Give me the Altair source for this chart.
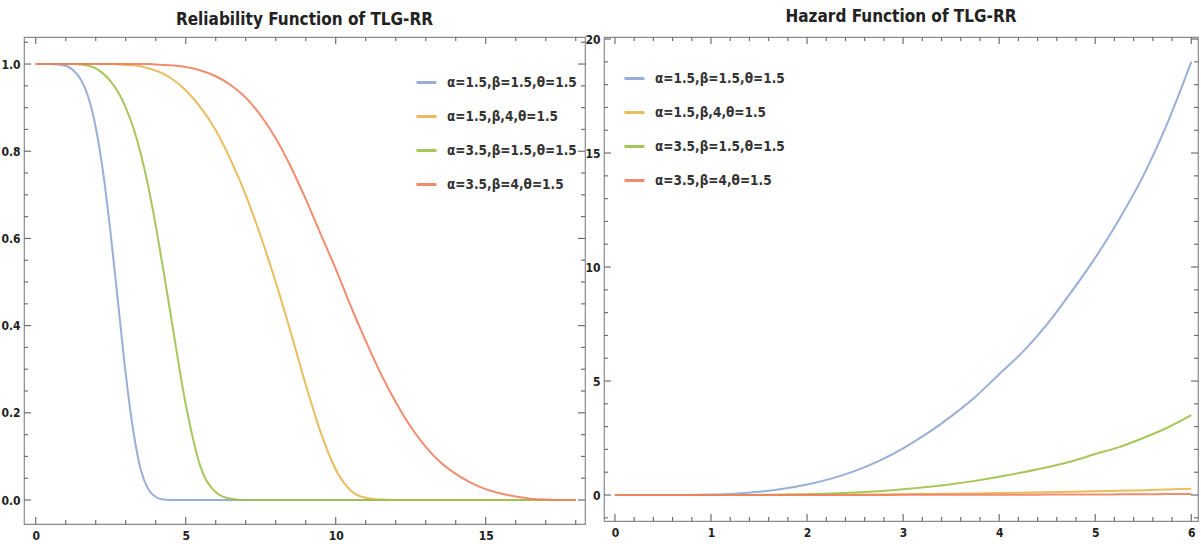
import altair as alt
import pandas as pd

SERIES = ["α=1.5,β=1.5,θ=1.5", "α=1.5,β,4,θ=1.5", "α=3.5,β=1.5,θ=1.5", "α=3.5,β=4,θ=1.5"]
COLORS = ["#8EA6D4", "#E9B54E", "#9DC04A", "#EF7F5E"]

# ---- Reliability function (left panel) ----
rel_x = [0, 0.5, 1, 1.25, 1.5, 1.75, 2, 2.25, 2.5, 2.75, 3, 3.25, 3.5, 3.75, 4, 4.25, 4.5,
         5, 5.5, 6, 6.5, 7, 7.5, 8, 8.5, 9, 9.5, 10, 10.5, 11, 11.5, 12, 12.5, 13, 13.5,
         14, 14.5, 15, 15.5, 16, 16.5, 17, 17.5, 18]
rel_blue = [1, 1, 0.996, 0.986, 0.965, 0.925, 0.855, 0.75, 0.61, 0.45, 0.29, 0.16, 0.07, 0.025, 0.007, 0.001, 0,
            0, 0, 0, 0, 0, 0, 0, 0, 0, 0, 0, 0, 0, 0, 0, 0, 0, 0,
            0, 0, 0, 0, 0, 0, 0, 0, 0]
rel_yellow = [1, 1, 1, 1, 1, 1, 1, 1, 1, 0.999, 0.998, 0.997, 0.995, 0.99, 0.985, 0.978, 0.968,
              0.94, 0.9, 0.848, 0.78, 0.7, 0.605, 0.5, 0.385, 0.265, 0.155, 0.07, 0.022, 0.005, 0.001, 0, 0, 0, 0,
              0, 0, 0, 0, 0, 0, 0, 0, 0]
rel_green = [1, 1, 1, 1, 0.999, 0.996, 0.99, 0.978, 0.96, 0.935, 0.9, 0.855, 0.795, 0.72, 0.63, 0.53, 0.425,
             0.22, 0.075, 0.018, 0.003, 0, 0, 0, 0, 0, 0, 0, 0, 0, 0, 0, 0, 0, 0,
             0, 0, 0, 0, 0, 0, 0, 0, 0]
rel_red = [1, 1, 1, 1, 1, 1, 1, 1, 1, 1, 1, 1, 1, 1, 0.999, 0.998, 0.997,
           0.993, 0.985, 0.972, 0.952, 0.923, 0.882, 0.83, 0.765, 0.69, 0.61, 0.53, 0.445, 0.365, 0.29, 0.225, 0.168, 0.122, 0.086,
           0.06, 0.04, 0.025, 0.015, 0.008, 0.003, 0.001, 0, 0]

# ---- Hazard function (right panel) ----
haz_x = [0, 0.25, 0.5, 0.75, 1, 1.25, 1.5, 1.75, 2, 2.25, 2.5, 2.75, 3, 3.25, 3.5, 3.75, 4,
         4.25, 4.5, 4.75, 5, 5.25, 5.5, 5.75, 6]
haz_blue = [0, 0, 0.001, 0.005, 0.02, 0.06, 0.14, 0.27, 0.46, 0.72, 1.06, 1.5, 2.05, 2.7, 3.45, 4.3, 5.3,
            6.3, 7.5, 8.9, 10.4, 12.1, 14.0, 16.3, 19.0]
haz_yellow = [0, 0, 0, 0, 0, 0.002, 0.004, 0.007, 0.01, 0.015, 0.02, 0.027, 0.035, 0.045, 0.057, 0.07, 0.085,
              0.1, 0.12, 0.14, 0.16, 0.185, 0.21, 0.245, 0.28]
haz_green = [0, 0, 0, 0, 0, 0, 0.005, 0.015, 0.035, 0.065, 0.11, 0.17, 0.25, 0.35, 0.47, 0.62, 0.8,
             1.0, 1.22, 1.47, 1.8, 2.1, 2.5, 2.95, 3.5]
haz_red = [0, 0, 0, 0, 0, 0, 0, 0.001, 0.002, 0.003, 0.004, 0.005, 0.006, 0.007, 0.009, 0.011, 0.013,
           0.015, 0.018, 0.021, 0.025, 0.029, 0.034, 0.04, 0.046]

# tick values
rel_x_major = [0, 5, 10, 15]
rel_x_minor = [1, 2, 3, 4, 6, 7, 8, 9, 11, 12, 13, 14, 16, 17, 18]
rel_y_major = [0, 0.2, 0.4, 0.6, 0.8, 1.0]
rel_y_minor = [0.05, 0.1, 0.15, 0.25, 0.3, 0.35, 0.45, 0.5, 0.55, 0.65, 0.7, 0.75, 0.85, 0.9, 0.95, 1.05]
haz_x_major = [0, 1, 2, 3, 4, 5, 6]
haz_x_minor = [0.2, 0.4, 0.6, 0.8, 1.2, 1.4, 1.6, 1.8, 2.2, 2.4, 2.6, 2.8, 3.2, 3.4, 3.6, 3.8,
               4.2, 4.4, 4.6, 4.8, 5.2, 5.4, 5.6, 5.8]
haz_y_major = [0, 5, 10, 15, 20]
haz_y_minor = [-1, 1, 2, 3, 4, 6, 7, 8, 9, 11, 12, 13, 14, 16, 17, 18, 19]


def long_df(x, ys):
    rows = []
    for k, (name, y) in enumerate(zip(SERIES, ys)):
        for xi, yi in zip(x, y):
            rows.append({"x": xi, "y": yi, "series": name, "k": k})
    return pd.DataFrame(rows)


FONT = "DejaVu Sans Condensed, Liberation Sans Narrow, sans-serif"
TICK_COLOR = "#6f6f6f"
FRAME_COLOR = "#8a8a8a"
MAJOR = 7
MINOR = 4


def label_axis(orient, values, fmt, pad):
    return alt.Axis(orient=orient, values=values, format=fmt, ticks=False, domain=False, grid=False,
                    labelFont=FONT, labelFontSize=12, labelFontWeight="bold", labelColor="#222",
                    labelPadding=pad, title=None)


def tick_rules(vals, channel, scale, axis, side, length, w, h):
    d = pd.DataFrame({"v": vals})
    m = alt.Chart(d).mark_rule(color=TICK_COLOR, strokeWidth=1.2)
    if channel == "x":
        y0 = h if side == "bottom" else 0
        y1 = h - length if side == "bottom" else length
        return m.encode(x=alt.X("v:Q", scale=scale, axis=axis), y=alt.value(y0), y2=alt.value(y1))
    x0 = 0 if side == "left" else w
    x1 = length if side == "left" else w - length
    return m.encode(y=alt.Y("v:Q", scale=scale, axis=axis), x=alt.value(x0), x2=alt.value(x1))


def panel(df, xdom, ydom, xmaj, xmin, ymaj, ymin, xfmt, yfmt, title, w, h, legx, legy):
    xs = alt.Scale(domain=xdom, nice=False, zero=False)
    ys = alt.Scale(domain=ydom, nice=False, zero=False)
    xaxis = label_axis("bottom", xmaj, xfmt, 6)
    yaxis = label_axis("left", ymaj, yfmt, 4)
    lines = alt.Chart(df).mark_line(strokeWidth=2, interpolate="monotone", clip=True, opacity=0.9).encode(
        x=alt.X("x:Q", scale=xs, axis=xaxis),
        y=alt.Y("y:Q", scale=ys, axis=yaxis),
        color=alt.Color("series:N", sort=SERIES,
                        scale=alt.Scale(domain=SERIES, range=COLORS),
                        legend=alt.Legend(title=None, orient="none", legendX=legx, legendY=legy,
                                          symbolType="stroke", symbolStrokeWidth=3, symbolSize=400,
                                          labelFont=FONT, labelFontSize=13.5, labelFontWeight="bold",
                                          labelColor="#333", rowPadding=16, labelOffset=9, padding=0,
                                          labelLimit=400)),
        order="k:Q",
    )
    layers = [lines]
    for vals, ln in ((xmaj, MAJOR), (xmin, MINOR)):
        layers.append(tick_rules(vals, "x", xs, xaxis, "bottom", ln, w, h))
        layers.append(tick_rules(vals, "x", xs, xaxis, "top", ln, w, h))
    for vals, ln in ((ymaj, MAJOR), (ymin, MINOR)):
        layers.append(tick_rules(vals, "y", ys, yaxis, "left", ln, w, h))
        layers.append(tick_rules(vals, "y", ys, yaxis, "right", ln, w, h))
    return alt.layer(*layers).properties(
        width=w, height=h,
        title=alt.TitleParams(text=title, font=FONT, fontSize=17, fontWeight="bold", color="#222",
                              anchor="middle", frame="group", offset=7),
    )


left = panel(long_df(rel_x, [rel_blue, rel_yellow, rel_green, rel_red]),
             [-0.39, 18.31], [-0.055, 1.062],
             rel_x_major, rel_x_minor, rel_y_major, rel_y_minor, "d", ".1f",
             "Reliability Function of TLG-RR", 561, 487, 391, 34)

right = panel(long_df(haz_x, [haz_blue, haz_yellow, haz_green, haz_red]),
              [-0.114, 6.07], [-1.14, 20.09],
              haz_x_major, haz_x_minor, haz_y_major, haz_y_minor, "d", "d",
              "Hazard Function of TLG-RR", 594, 484, 19, 30)

chart = alt.hconcat(left, right, spacing=19).resolve_scale(color="independent").properties(
    bounds="flush",
    padding={"left": 0, "top": 7, "right": 0, "bottom": 0},
    background="white",
).configure_view(stroke=FRAME_COLOR, strokeWidth=1.2)

chart.save("out.html", embed_options={"renderer": "svg", "actions": False})
